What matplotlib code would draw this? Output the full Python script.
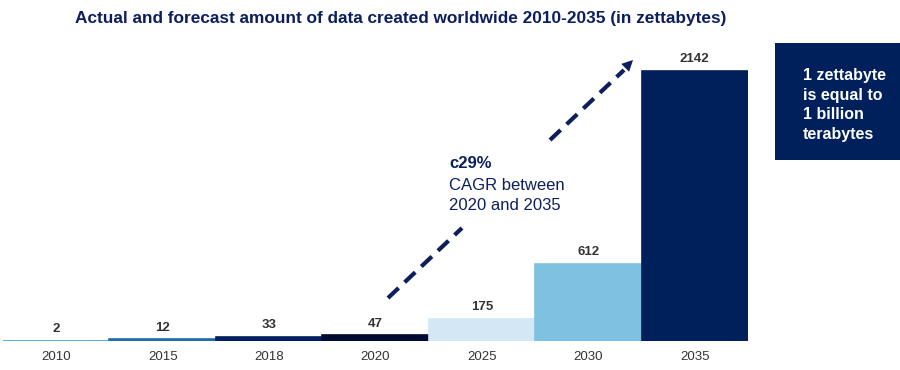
import numpy as np
import matplotlib
matplotlib.use('Agg')
import matplotlib.pyplot as plt

plt.rcParams['font.family'] = ['Liberation Sans', 'DejaVu Sans']

years = ['2010', '2015', '2018', '2020', '2025', '2030', '2035']
values = [2, 12, 33, 47, 175, 612, 2142]
bar_colors = ['#3ba6d6', '#1f6ea8', '#002060', '#000b33', '#d3e8f4', '#7fc1e0', '#00205b']

navy = '#0c1f5c'
label_gray = '#333333'

fig = plt.figure(figsize=(9, 3.7), dpi=100)
# baseline at y=341px, axes top at y=40px
ax = fig.add_axes([3 / 900, 1 - 341 / 370, 745 / 900, 301 / 370])

x = np.arange(len(years))
ax.bar(x, values, width=1.0, color=bar_colors, edgecolor=bar_colors, linewidth=1.2, align='center')
ax.set_xlim(-0.5, len(years) - 0.5)
ax.set_ylim(0, 2142 * 301 / 270)

for xi, v in zip(x, values):
    ax.annotate(str(v), (xi, v), xytext=(0, 4), textcoords='offset points',
                ha='center', va='bottom', fontsize=9.5, fontweight='bold', color=label_gray)

ax.set_xticks(x)
ax.set_xticklabels(years, fontsize=9.5, color=label_gray)
ax.tick_params(axis='x', length=0, pad=7)
ax.set_yticks([])
for s in ax.spines.values():
    s.set_visible(False)

# title
fig.text(401 / 900, 1 - 18 / 370, 'Actual and forecast amount of data created worldwide 2010-2035 (in zettabytes)',
         ha='center', va='center', fontsize=12.4, fontweight='bold', color=navy)

# dashed CAGR arrow (two pieces around the text), in figure pixel coords
def fpt(px, py):
    return (px / 900, 1 - py / 370)

fig.add_artist(matplotlib.lines.Line2D([388 / 900, 462 / 900], [1 - 298 / 370, 1 - 228 / 370],
                                       transform=fig.transFigure, color=navy, lw=3,
                                       linestyle=(0, (3.5, 2))))
fig.add_artist(matplotlib.lines.Line2D([550 / 900, 624 / 900], [1 - 140 / 370, 1 - 70 / 370],
                                       transform=fig.transFigure, color=navy, lw=3,
                                       linestyle=(0, (3.5, 2))))
fig.add_artist(matplotlib.patches.FancyArrowPatch(fpt(618, 75), fpt(635, 58),
                                                  transform=fig.transFigure, arrowstyle='-|>',
                                                  mutation_scale=20, color=navy, lw=0))

fig.text(449 / 900, 1 - 164 / 370, 'c29%', ha='left', va='center', fontsize=12,
         fontweight='bold', color=navy)
fig.text(449 / 900, 1 - 185 / 370, 'CAGR between', ha='left', va='center', fontsize=12, color=navy)
fig.text(449 / 900, 1 - 206 / 370, '2020 and 2035', ha='left', va='center', fontsize=12, color=navy)

# info box
fig.add_artist(matplotlib.patches.Rectangle((775 / 900, 1 - 160 / 370), 125 / 900, 117 / 370,
                                            transform=fig.transFigure, color='#00205b', lw=0))
fig.text(803 / 900, 1 - 105 / 370, '1 zettabyte\nis equal to\n1 billion\nterabytes',
         ha='left', va='center', fontsize=11.5, fontweight='bold', color='white', linespacing=1.4)

fig.savefig('out.png', dpi=100)
